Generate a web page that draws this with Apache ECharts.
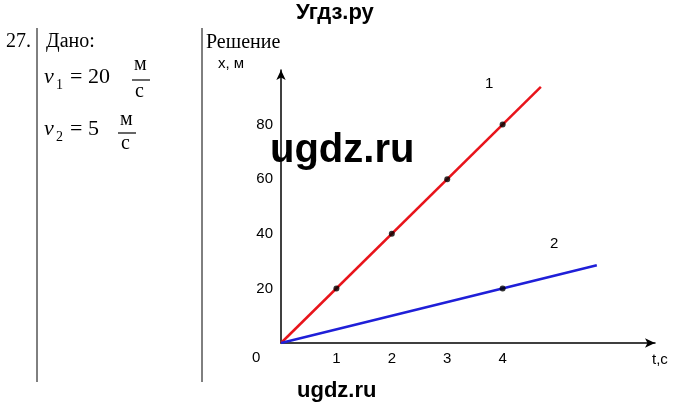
<!DOCTYPE html>
<html><head><meta charset="utf-8">
<script src="https://cdn.jsdelivr.net/npm/echarts@6/dist/echarts.min.js"></script>
<style>html,body{margin:0;background:#fff}#c{width:680px;height:408px}</style>
</head><body><div id="c"></div>
<script>
const line1 = [[0,0],[4.69,93.8]];
const line2 = [[0,0],[5.7,28.5]];
const points1 = [[1,20],[2,40],[3,60],[4,80]];
const points2 = [[4,20]];
const xTicks = [1,2,3,4];
const yTicks = [20,40,60,80];
const chart = echarts.init(document.getElementById('c'));
const serif = 'Liberation Serif';
const T = (x,y,text,o={}) => ({type:'text',left:x,top:y,z:10,style:Object.assign({text,font:'20px '+serif,fill:'#000'},o)});
const L = (x1,y1,x2,y2,w=1) => ({type:'line',shape:{x1,y1,x2,y2},style:{stroke:'#000',lineWidth:w}});
chart.setOption({
  animation:false,
  grid:{left:281,bottom:65,width:374,height:273},
  xAxis:{type:'value',min:0,max:6.75,interval:1,splitLine:{show:false},
    axisLine:{symbol:['none','arrow'],symbolSize:[7,10],lineStyle:{color:'#000',width:1.5}},
    axisTick:{show:false},
    axisLabel:{showMaxLabel:false,margin:8,color:'#000',fontSize:15,fontFamily:'Liberation Sans',formatter:v=>xTicks.includes(v)?v:''}},
  yAxis:{type:'value',min:0,max:100,interval:20,splitLine:{show:false},
    axisLine:{show:true,symbol:['none','arrow'],symbolSize:[7,10],lineStyle:{color:'#000',width:1.5}},
    axisTick:{show:false},
    axisLabel:{showMaxLabel:false,margin:8,color:'#000',fontSize:15,fontFamily:'Liberation Sans',formatter:v=>yTicks.includes(v)?v:''}},
  series:[
    {type:'line',data:line1,symbol:'none',lineStyle:{color:'#e8141b',width:2.5}},
    {type:'line',data:line2,symbol:'none',lineStyle:{color:'#1f1fd8',width:2.5}},
    {type:'scatter',data:points1.concat(points2),symbolSize:6,z:5,itemStyle:{color:'#000'}}
  ],
  graphic:[
    L(37,28,37,382),L(202,28,202,382),
    T(6,32,'27.'),T(46,32,'Дано:'),T(206,33,'Решение'),
    T(44,66,'v',{font:'italic 22px '+serif}),T(56,78,'1',{font:'14px '+serif}),T(70,66,'= 20',{font:'22px '+serif}),
    T(134,55,'м',{font:'20px '+serif}),L(132,80,150,80,1.2),T(135,82,'с',{font:'20px '+serif}),
    T(44,118,'v',{font:'italic 22px '+serif}),T(56,130,'2',{font:'14px '+serif}),T(70,118,'= 5',{font:'22px '+serif}),
    T(120,110,'м',{font:'20px '+serif}),L(118,133,136,133,1.2),T(121,134,'с',{font:'20px '+serif}),
    T(218,56,'x, м',{font:'15px Liberation Sans'}),
    T(252,350,'0',{font:'15px Liberation Sans'}),
    T(652,352,'t,c',{font:'15px Liberation Sans'}),
    T(485,76,'1',{font:'15px Liberation Sans'}),
    T(550,236,'2',{font:'15px Liberation Sans'}),
    T(296,2,'Угдз.ру',{font:'bold 22px Liberation Sans'}),
    T(270,131,'ugdz.ru',{font:'bold 40px Liberation Sans'}),
    T(297,380,'ugdz.ru',{font:'bold 22px Liberation Sans'})
  ]
});
</script></body></html>
